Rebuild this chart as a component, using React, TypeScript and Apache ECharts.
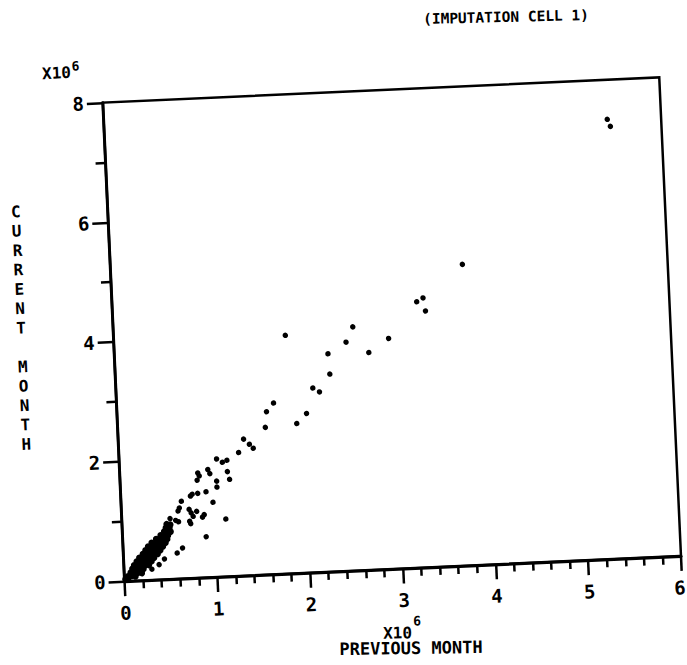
import React, { useEffect, useRef } from "react";
import * as echarts from "echarts";

// Imputation cell 1: current month vs previous month, both in units of 10^6.
const xTickValues = [0, 1, 2, 3, 4, 5, 6];
const yTickValues = [0, 2, 4, 6, 8];

// Scattered reporting units (previous, current)
const sparsePoints: [number, number][] = [
  [5.42, 7.34], [5.45, 7.22], [3.79, 5.03], [3.28, 4.44], [3.35, 4.5], [3.37, 4.28],
  [1.85, 3.98], [2.58, 4.07], [2.5, 3.82], [2.96, 3.85], [2.74, 3.63], [2.3, 3.64],
  [2.31, 3.3], [2.12, 3.08], [2.19, 3.01], [1.69, 2.86], [1.61, 2.72], [1.59, 2.46],
  [1.93, 2.5], [2.04, 2.66], [1.35, 2.28], [1.41, 2.19], [1.45, 2.12], [1.29, 2.06],
  [1.05, 1.97], [1.11, 1.91], [1.16, 1.94], [0.95, 1.8], [0.97, 1.73], [1.16, 1.75],
  [1.18, 1.62], [1.04, 1.6], [1.04, 1.5], [0.92, 1.43], [0.84, 1.75], [0.855, 1.7],
  [0.83, 1.63], [0.83, 1.41], [0.77, 1.4], [0.75, 1.37], [0.99, 1.25], [0.65, 1.29],
  [0.625, 1.18], [0.61, 1.13], [0.73, 1.15], [0.75, 1.09], [0.77, 1.03], [0.81, 1.11],
  [0.89, 1.05], [0.87, 1.01], [0.73, 0.95], [0.74, 0.91], [1.12, 0.96], [0.52, 1.01],
  [0.58, 0.975], [0.61, 0.95], [0.9, 0.68], [0.64, 0.51], [0.58, 0.43], [0.44, 0.34],
  [0.38, 0.25], [0.3, 0.18],
];

// Small units packed near the origin
const densePoints: [number, number][] = [
  [0.01, 0.03], [0.04, 0.03], [0.04, 0.08], [0.08, 0.08], [0.12, 0.07],
  [0.07, 0.14], [0.11, 0.14], [0.15, 0.13], [0.19, 0.12],
  [0.09, 0.2], [0.13, 0.2], [0.17, 0.2], [0.21, 0.19],
  [0.11, 0.26], [0.15, 0.26], [0.19, 0.26], [0.23, 0.25], [0.27, 0.25],
  [0.14, 0.32], [0.18, 0.32], [0.22, 0.32], [0.26, 0.31], [0.3, 0.31],
  [0.17, 0.38], [0.21, 0.38], [0.25, 0.38], [0.29, 0.37], [0.33, 0.37],
  [0.21, 0.44], [0.25, 0.44], [0.29, 0.44], [0.33, 0.43], [0.37, 0.43],
  [0.24, 0.5], [0.28, 0.5], [0.32, 0.5], [0.36, 0.49], [0.4, 0.49],
  [0.27, 0.56], [0.31, 0.56], [0.35, 0.56], [0.39, 0.55], [0.43, 0.55],
  [0.31, 0.62], [0.35, 0.62], [0.39, 0.62], [0.43, 0.61], [0.46, 0.61],
  [0.36, 0.68], [0.4, 0.68], [0.44, 0.68], [0.48, 0.67],
  [0.41, 0.74], [0.45, 0.74], [0.49, 0.73],
  [0.45, 0.8], [0.49, 0.8], [0.52, 0.79],
  [0.47, 0.86], [0.51, 0.86], [0.48, 0.92], [0.52, 0.91],
];

const W = 687;
const H = 665;
const CX = W / 2;
const CY = H / 2;
// The whole sheet sits slightly turned counter-clockwise.
const TILT_DEG = 2.6;
const TILT = (TILT_DEG * Math.PI) / 180;
const FONT = '"DejaVu Sans Mono", "Liberation Mono", monospace';

// Page position -> position inside the turned chart surface
function place(x: number, y: number) {
  const dx = x - CX;
  const dy = y - CY;
  return {
    x: CX + dx * Math.cos(TILT) - dy * Math.sin(TILT),
    y: CY + dx * Math.sin(TILT) + dy * Math.cos(TILT),
  };
}

function label(text: string, px: number, py: number, size: number, level = 0, lineHeight?: number) {
  const p = place(px, py);
  return {
    type: "text",
    x: p.x,
    y: p.y,
    rotation: (-level * Math.PI) / 180,
    style: {
      text,
      fill: "#000",
      fontSize: size,
      fontWeight: "bold",
      fontFamily: FONT,
      textAlign: "center",
      textVerticalAlign: "middle",
      lineHeight: lineHeight ?? size * 1.2,
    },
  };
}

export default function App() {
  const ref = useRef<HTMLDivElement>(null);

  useEffect(() => {
    if (!ref.current) return;
    const chart = echarts.init(ref.current, null, { renderer: "svg" });
    const axisText = { fontFamily: FONT, fontWeight: "bold", fontSize: 19, color: "#000" };
    const lastX = xTickValues[xTickValues.length - 1];

    chart.setOption({
      animation: false,
      backgroundColor: "#fff",
      grid: {
        left: 113.5,
        right: 16.5,
        top: 92,
        bottom: 94,
        show: true,
        borderColor: "#000",
        borderWidth: 2.5,
        backgroundColor: "transparent",
      },
      xAxis: {
        type: "value",
        min: xTickValues[0],
        max: lastX,
        interval: 1,
        splitLine: { show: false },
        axisLine: { show: true, lineStyle: { color: "#000", width: 3 } },
        axisTick: { show: true, length: 15, lineStyle: { color: "#000", width: 2.5 } },
        minorTick: { show: true, splitNumber: 5, length: 8, lineStyle: { color: "#000", width: 2.5 } },
        axisLabel: {
          ...axisText,
          margin: 22,
          formatter: (v: number) => (v === lastX ? `{edge|${v}}` : String(v)),
          rich: { edge: { ...axisText, padding: [0, 5, 0, 0] } },
        },
      },
      yAxis: {
        type: "value",
        min: yTickValues[0],
        max: yTickValues[yTickValues.length - 1],
        interval: 2,
        splitLine: { show: false },
        axisLine: { show: true, lineStyle: { color: "#000", width: 3 } },
        axisTick: { show: true, length: 16, lineStyle: { color: "#000", width: 2.5 } },
        minorTick: { show: true, splitNumber: 2, length: 10, lineStyle: { color: "#000", width: 2.5 } },
        axisLabel: { ...axisText, margin: 19 },
      },
      series: [
        {
          type: "scatter",
          data: densePoints,
          symbol: "circle",
          symbolSize: 6.5,
          itemStyle: { color: "#000", opacity: 1 },
          silent: true,
        },
        {
          type: "scatter",
          data: sparsePoints,
          symbol: "circle",
          symbolSize: 5.5,
          itemStyle: { color: "#000", opacity: 1 },
          silent: true,
        },
      ],
      graphic: [
        label("(IMPUTATION CELL 1)", 506, 17, 14.5, 1.2),
        label("X10", 56.5, 73, 16),
        label("6", 75.5, 66, 13),
        label("CURRENT MONTH".split("").join("\n"), 21, 328, 16, 0, 19.4),
        label("X10", 397.5, 633, 16, 1.6),
        label("6", 417, 621, 13, 1.6),
        label("PREVIOUS MONTH", 411, 648, 17, 1.8),
      ],
    });

    return () => chart.dispose();
  }, []);

  return (
    <div
      ref={ref}
      style={{
        position: "absolute",
        left: 0,
        top: 0,
        width: W,
        height: H,
        transform: `rotate(-${TILT_DEG}deg)`,
        transformOrigin: `${CX}px ${CY}px`,
      }}
    />
  );
}
